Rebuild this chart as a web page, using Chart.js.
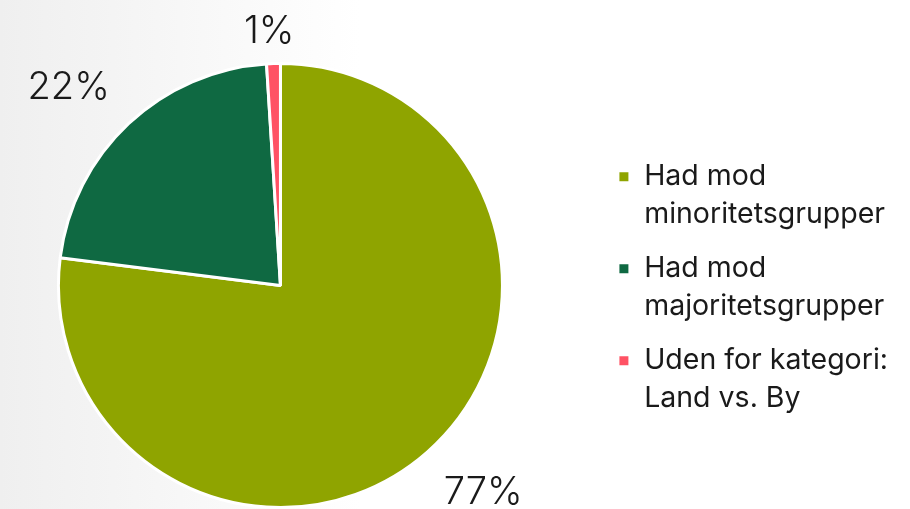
<!DOCTYPE html>
<html>
<head>
<meta charset="utf-8">
<script src="https://cdn.jsdelivr.net/npm/chart.js@4.4.1/dist/chart.umd.min.js"></script>
<style>
  html, body {
    margin: 0;
    padding: 0;
    width: 910px;
    height: 509px;
    overflow: hidden;
    background: linear-gradient(to right, #efefef 0px, #f7f7f7 180px, #ffffff 360px);
  }
  /* canvas starts a bit left of the window so the pie sits where the original has it */
  #wrap {
    position: absolute;
    left: -41px;
    top: 0;
    width: 951px;
    height: 509px;
  }
</style>
</head>
<body>
<div id="wrap"><canvas id="chart"></canvas></div>
<script>
// categories (legend labels, split over lines like the original)
const categories = [
  ['Had mod', 'minoritetsgrupper'],
  ['Had mod', 'majoritetsgrupper'],
  ['Uden for kategori:', 'Land vs. By']
];
const shares = [77, 22, 1];
const sliceColors = ['#8fa400', '#0f6942', '#ff5264'];

// percent labels outside each slice
const outsideLabels = {
  id: 'outsideLabels',
  afterDatasetsDraw(chart) {
    const ctx = chart.ctx;
    const meta = chart.getDatasetMeta(0);
    const values = chart.data.datasets[0].data;
    const size = 38;
    ctx.save();
    ctx.font = '300 ' + size + 'px Inter, Lato, sans-serif';
    ctx.fillStyle = '#1a1a1a';
    ctx.textAlign = 'center';
    ctx.textBaseline = 'alphabetic';
    meta.data.forEach((arc, i) => {
      const {x, y, startAngle, endAngle, outerRadius} = arc.getProps(['x', 'y', 'startAngle', 'endAngle', 'outerRadius'], true);
      const span = endAngle - startAngle;
      // labels sit a little counter-clockwise of the slice middle
      const ang = startAngle + span / 2 - Math.min(0.058, span * 0.2);
      const text = values[i] + '%';
      const w = ctx.measureText(text).width;
      const dist = outerRadius - 22 + w * 1.117;
      // centre the digits (cap height ~0.73em) on the label point
      ctx.fillText(text, x + Math.cos(ang) * dist, y + Math.sin(ang) * dist + size * 0.365);
    });
    ctx.restore();
  }
};

new Chart(document.getElementById('chart'), {
  type: 'pie',
  data: {
    labels: categories,
    datasets: [{
      data: shares,
      backgroundColor: sliceColors,
      borderColor: '#ffffff',
      borderWidth: 3
    }]
  },
  options: {
    responsive: true,
    maintainAspectRatio: false,
    animation: false,
    layout: {
      padding: {top: 62, bottom: 0, left: 0, right: 12}
    },
    plugins: {
      tooltip: {enabled: false},
      legend: {
        position: 'right',
        title: {display: true, text: ' ', padding: 0, font: {size: 14, lineHeight: 1}},
        labels: {
          boxWidth: 12,
          boxHeight: 12,
          padding: 16,
          color: '#1a1a1a',
          font: {family: 'Inter, Lato, sans-serif', size: 28.5, lineHeight: '38px'}
        }
      }
    }
  },
  plugins: [outsideLabels]
});
</script>
</body>
</html>
